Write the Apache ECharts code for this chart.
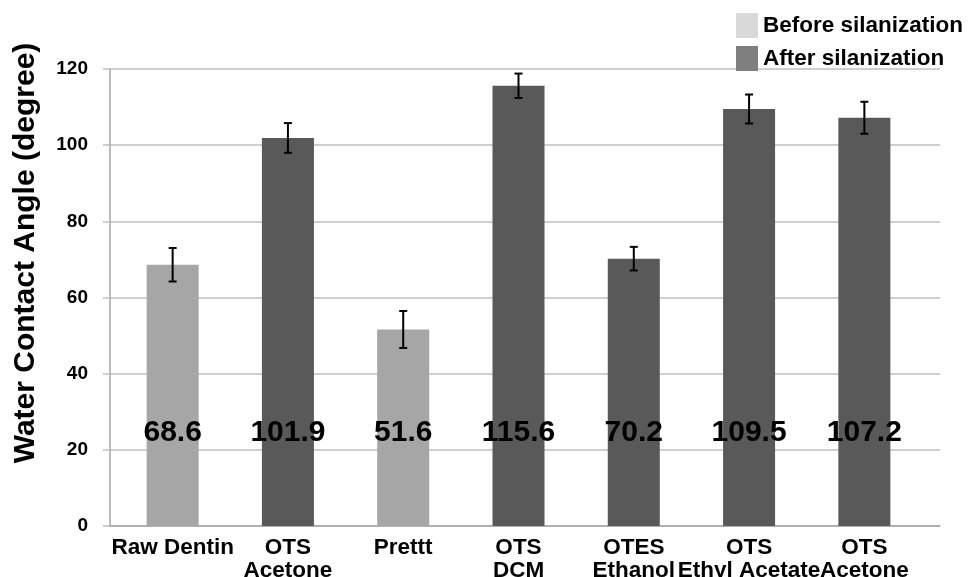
<!DOCTYPE html>
<html>
<head>
<meta charset="utf-8">
<script src="https://cdn.jsdelivr.net/npm/echarts@6/dist/echarts.min.js"></script>
<style>
html,body{margin:0;padding:0;background:#fff;}
#chart{width:969px;height:577px;}
</style>
</head>
<body>
<div id="chart"></div>
<script>
const categories = ['Raw Dentin', 'OTS\nAcetone', 'Prettt', 'OTS\nDCM', 'OTES\nEthanol', 'OTS\nEthyl Acetate', 'OTS\nAcetone'];
const beforeValues = [68.6, '-', 51.6, '-', '-', '-', '-'];
const afterValues = ['-', 101.9, '-', 115.6, 70.2, 109.5, 107.2];
const errorValues = [4.4, 3.9, 4.85, 3.2, 3.1, 3.8, 4.2];
const yTicks = { min: 0, max: 120, interval: 20 };

const FONT = '"Liberation Sans", Arial, Helvetica, sans-serif';
const combined = categories.map((c, i) => beforeValues[i] !== '-' ? beforeValues[i] : afterValues[i]);
const errorData = categories.map((c, i) => [i, combined[i] - errorValues[i], combined[i] + errorValues[i]]);

const chart = echarts.init(document.getElementById('chart'), null, { renderer: 'canvas' });

const valueLabel = {
  show: true,
  position: 'insideBottom',
  distance: 78,
  fontFamily: FONT,
  fontWeight: 'bold',
  fontSize: 30,
  color: '#000',
  formatter: p => Number(p.value).toFixed(1)
};

chart.setOption({
  animation: false,
  backgroundColor: '#fff',
  legend: {
    orient: 'vertical',
    left: 736,
    top: 13,
    padding: 0,
    itemWidth: 22,
    itemHeight: 25,
    itemGap: 8,
    icon: 'rect',
    textStyle: { fontFamily: FONT, fontWeight: 'bold', fontSize: 22.5, color: '#000' },
    data: [
      { name: 'Before silanization', itemStyle: { color: '#d9d9d9' } },
      { name: 'After silanization', itemStyle: { color: '#7f7f7f' } }
    ]
  },
  grid: [
    { left: 110, right: 29, top: 69, bottom: 51, containLabel: false, outerBoundsMode: 'none' },
    { left: 115, right: 47, top: 69, bottom: 51, containLabel: false, outerBoundsMode: 'none' }
  ],
  xAxis: [
    {
      type: 'category', gridIndex: 0, data: [''],
      axisLine: { show: true, lineStyle: { color: '#a6a6a6', width: 1.5 } },
      axisTick: { show: false }, axisLabel: { show: false }, splitLine: { show: false }
    },
    {
      type: 'category', gridIndex: 1, data: categories,
      axisLine: { show: false }, axisTick: { show: false },
      axisLabel: {
        interval: 0, hideOverlap: false, margin: 10,
        fontFamily: FONT, fontWeight: 'bold', fontSize: 22.5, lineHeight: 23, color: '#000'
      }
    }
  ],
  yAxis: [
    {
      type: 'value', gridIndex: 0, min: yTicks.min, max: yTicks.max, interval: yTicks.interval,
      axisLine: { show: true, lineStyle: { color: '#a6a6a6', width: 1.5 } },
      axisTick: { show: true, length: 7, lineStyle: { color: '#bfbfbf', width: 1.5 } },
      axisLabel: { margin: 22, fontFamily: FONT, fontWeight: 'bold', fontSize: 19, color: '#000' },
      splitLine: { show: true, lineStyle: { color: '#bfbfbf', width: 1.5 } }
    },
    {
      type: 'value', gridIndex: 1, min: yTicks.min, max: yTicks.max, interval: yTicks.interval,
      show: false
    }
  ],
  graphic: [
    {
      type: 'text',
      x: 26, y: 253,
      rotation: Math.PI / 2,
      style: {
        text: 'Water Contact Angle (degree)',
        fontFamily: FONT, fontWeight: 'bold', fontSize: 30, fill: '#000',
        align: 'center', verticalAlign: 'middle'
      }
    }
  ],
  series: [
    {
      name: 'Before silanization', type: 'bar', xAxisIndex: 1, yAxisIndex: 1,
      data: beforeValues, barWidth: 52, barGap: '-100%',
      itemStyle: { color: '#a6a6a6' }, label: valueLabel
    },
    {
      name: 'After silanization', type: 'bar', xAxisIndex: 1, yAxisIndex: 1,
      data: afterValues, barWidth: 52, barGap: '-100%',
      itemStyle: { color: '#595959' }, label: valueLabel
    },
    {
      name: 'error', type: 'custom', xAxisIndex: 1, yAxisIndex: 1,
      data: errorData, z: 10,
      renderItem: function (params, api) {
        const x = api.value(0);
        const lo = api.coord([x, api.value(1)]);
        const hi = api.coord([x, api.value(2)]);
        const cap = 4;
        const style = { stroke: '#000', lineWidth: 2 };
        return {
          type: 'group',
          children: [
            { type: 'line', shape: { x1: lo[0], y1: lo[1], x2: hi[0], y2: hi[1] }, style },
            { type: 'line', shape: { x1: lo[0] - cap, y1: lo[1], x2: lo[0] + cap, y2: lo[1] }, style },
            { type: 'line', shape: { x1: hi[0] - cap, y1: hi[1], x2: hi[0] + cap, y2: hi[1] }, style }
          ]
        };
      }
    }
  ]
});
</script>
</body>
</html>
